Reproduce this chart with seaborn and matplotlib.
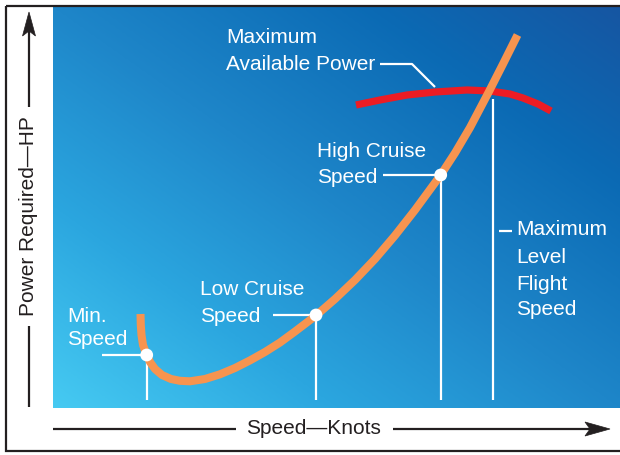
import numpy as np
import matplotlib
matplotlib.use("Agg")
import matplotlib.pyplot as plt
from matplotlib.colors import LinearSegmentedColormap
from matplotlib.patches import Rectangle, Polygon
import seaborn as sns
import pandas as pd

# ---------------- data (chart units) ----------------
req_speed = [87.5, 87.8, 88.5, 90, 93.7, 97, 102, 109, 118, 127, 137, 152, 167, 182,
             197, 212, 227, 242, 263, 282, 302, 322, 342, 362, 387.7, 402, 417,
             436, 450, 464.5]
req_power = [94, 83, 73, 63, 53, 46, 39, 33, 29, 27.2, 26.7, 29, 33.7, 40,
             47.6, 56, 65.5, 76.5, 92.5, 109, 128, 149, 172.5, 198, 233, 255, 280.4,
             316.5, 344, 373]

avail_speed = [303, 327, 354, 382, 414, 437, 457, 470, 485, 498]
avail_power = [303, 308, 313, 316, 318, 317, 314, 310, 304, 297]

point_names = ["Min. Speed", "Low Cruise Speed", "High Cruise Speed"]
point_speed = [93.7, 263, 387.7]
point_power = [53, 93, 233]

max_level_speed = 440
max_level_power = 309

x_label = "Speed—Knots"
y_label = "Power Required—HP"

# ---------------- styling ----------------
plt.rcParams['font.family'] = ['Liberation Sans', 'DejaVu Sans']
ORANGE = "#f7944f"
RED = "#ec1c24"
INK = "#231f20"
FS = 15

W, H = 620, 455
fig = plt.figure(figsize=(W / 100, H / 100), dpi=100)

# panel axes (pixel box: x 53..620, y 7..408)
px0, px1, py0, py1 = 53, 620, 7, 408
ax = fig.add_axes([px0 / W, (H - py1) / H, (px1 - px0) / W, (py1 - py0) / H])
XMAX, YMAX = px1 - px0, py1 - py0
ax.set_xlim(0, XMAX)
ax.set_ylim(0, YMAX)
ax.set_axis_off()

# gradient background
cmap = LinearSegmentedColormap.from_list(
    "bg", [(0.0, "#46caf2"), (0.25, "#2ba6df"), (0.5, "#1e86c9"),
           (0.78, "#0b6ab4"), (1.0, "#1656a2")])
gx = np.linspace(0, 1, 400)
gy = np.linspace(0, 1, 300)
GX, GY = np.meshgrid(gx, gy)
T = (GX + GY) / 2
ax.imshow(T, cmap=cmap, extent=(0, XMAX, 0, YMAX), origin="lower",
          aspect="auto", zorder=0, interpolation="bilinear")

# vertical drop lines
ax.vlines(point_speed, 8, point_power, colors="white", lw=1.6, zorder=2)
ax.vlines([max_level_speed], 8, [max_level_power], colors="white", lw=1.6, zorder=2)

# curves
df_av = pd.DataFrame({"speed": avail_speed, "power": avail_power})
sns.lineplot(data=df_av, x="speed", y="power", sort=False, estimator=None,
             color=RED, lw=5.2, ax=ax, zorder=3, solid_capstyle="butt")
df_req = pd.DataFrame({"speed": req_speed, "power": req_power})
sns.lineplot(data=df_req, x="speed", y="power", sort=False, estimator=None,
             color=ORANGE, lw=5.8, ax=ax, zorder=4, solid_capstyle="butt",
             solid_joinstyle="round")

df_pts = pd.DataFrame({"name": point_names, "speed": point_speed, "power": point_power})
sns.scatterplot(data=df_pts, x="speed", y="power", color="white", s=85,
                edgecolor="none", ax=ax, zorder=5, legend=False)
ax.set_xlabel("")
ax.set_ylabel("")

# leader lines
lk = dict(color="white", lw=1.6, zorder=2, solid_capstyle="butt")
ax.plot([327, 359, 382], [344, 344, 321], **lk)
ax.plot([330, point_speed[2]], [point_power[2], point_power[2]], **lk)
ax.plot([219.7, point_speed[1]], [point_power[1], point_power[1]], **lk)
ax.plot([49, point_speed[0]], [point_power[0], point_power[0]], **lk)
ax.plot([446, 459], [177, 177], **lk)

# labels
tk = dict(color="white", fontsize=FS, ha="left", va="baseline", zorder=6)
def lines(x, ys, texts):
    for y, t in zip(ys, texts):
        ax.text(x, y, t, **tk)

lines(173, [365, 338.5], ["Maximum", "Available Power"])
lines(264, [251, 225], ["High Cruise", "Speed"])
lines(147, [113, 86.5], ["Low Cruise", "Speed"])
lines(14, [86.5, 63], ["Min.", "Speed"])
lines(463, [173, 145, 118, 93], ["Maximum", "Level", "Flight", "Speed"])

# overlay for frame, axis arrows and axis titles (pixel coords)
ov = fig.add_axes([0, 0, 1, 1], zorder=10)
ov.set_xlim(0, W)
ov.set_ylim(H, 0)
ov.set_axis_off()
ov.patch.set_visible(False)

ov.add_patch(Rectangle((6, 6), W + 10, 445, fill=False, ec=INK, lw=1.6))

# y arrow
ov.plot([29, 29], [407, 326], color=INK, lw=1.6, solid_capstyle="butt")
ov.plot([29, 29], [107, 30], color=INK, lw=1.6, solid_capstyle="butt")
ov.add_patch(Polygon([(29, 12), (22.5, 36), (29, 31), (35.5, 36)], closed=True,
                     fc=INK, ec=INK, lw=0.5))
ov.text(29, 216, y_label, rotation=90, ha="center", va="center",
        fontsize=FS, color=INK)

# x arrow
ov.plot([53, 236], [429, 429], color=INK, lw=1.6, solid_capstyle="butt")
ov.plot([393, 592], [429, 429], color=INK, lw=1.6, solid_capstyle="butt")
ov.add_patch(Polygon([(610, 429), (585, 422), (590, 429), (585, 436)], closed=True,
                     fc=INK, ec=INK, lw=0.5))
ov.text(313, 429, x_label, ha="center", va="center", fontsize=FS, color=INK)

fig.savefig("out.png", dpi=100)
